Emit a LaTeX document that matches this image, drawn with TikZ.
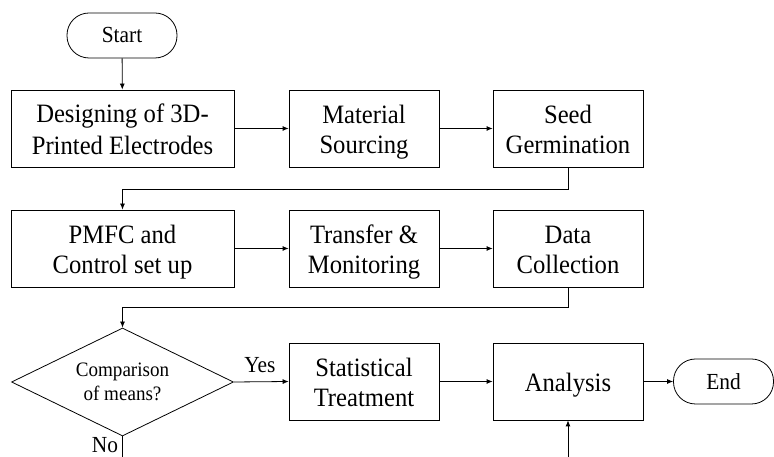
\documentclass[tikz,border=0pt]{standalone}
\usepackage{fontspec}
\setmainfont[FakeStretch=0.93]{Liberation Serif}
\usetikzlibrary{arrows.meta,shapes.geometric,positioning}
\newcommand\ls{\rule[-5pt]{0pt}{30pt}}
\newcommand\lsd{\rule[-5pt]{0pt}{24pt}}
\begin{document}
\begin{tikzpicture}[x=1pt,y=1pt,
  line width=0.8pt,
  box/.style={draw, rectangle, minimum height=77pt, inner sep=0pt, align=center,
    font=\fontsize{26.5}{30}\selectfont},
  term/.style={draw, rectangle, rounded corners=22pt, minimum width=110pt, minimum height=45pt,
    inner sep=0pt, font=\fontsize{23}{26}\selectfont},
  decision/.style={draw, diamond, aspect=2.05, minimum width=222pt, minimum height=108pt,
    inner sep=0pt, align=center, font=\fontsize{20.5}{24}\selectfont},
  lbl/.style={font=\fontsize{23}{26}\selectfont, inner sep=0pt},
  arr/.style={-{Latex[length=6pt,width=5pt]}}]
\useasboundingbox (0,0) rectangle (774,457);
% row 0
\node[term] (start) at (122,421.5) {Start};
% row 1
\node[box, minimum width=223pt] (b1) at (122.5,328.5) {\ls Designing of 3D-\\\ls Printed Electrodes};
\node[box, minimum width=150pt] (b2) at (364,328.5) {\ls Material\\\ls Sourcing};
\node[box, minimum width=150pt] (b3) at (568,328.5) {\ls Seed\\\ls Germination};
% row 2
\node[box, minimum width=223pt] (b4) at (122.5,208.5) {\ls PMFC and\\\ls Control set up};
\node[box, minimum width=150pt] (b5) at (364,208.5) {\ls Transfer \&\\\ls Monitoring};
\node[box, minimum width=150pt] (b6) at (568,208.5) {\ls Data\\\ls Collection};
% row 3
\node[decision] (dia) at (122.5,75) {\lsd Comparison\\\lsd of means?};
\node[box, minimum width=150pt] (b7) at (364,75.5) {\ls Statistical\\\ls Treatment};
\node[box, minimum width=150pt] (b8) at (568,75.5) {\ls Analysis};
\node[term, minimum width=100pt] (end) at (723.5,75.5) {End};
\coordinate (nobot) at (122.5,0);
\coordinate (anbot) at (568,0);
% connectors
\draw[arr] (start) -- (b1);
\draw[arr] (b1) -- (b2);
\draw[arr] (b2) -- (b3);
\draw[arr] (b3.south) -- ++(0,-22) -| (b4.north);
\draw[arr] (b4) -- (b5);
\draw[arr] (b5) -- (b6);
\draw[arr] (b6.south) -- ++(0,-20) -| (dia.north);
\draw[arr] (dia.east) -- (b7.west);
\node[lbl, anchor=base] (yes) at (260,84) {Yes};
\draw (dia.south) -- (nobot);
\node[lbl, anchor=base east] (no) at (118.5,4) {No};
\draw[arr] (b7) -- (b8);
\draw[arr] (b8) -- (end);
\draw[arr] (anbot) -- (b8.south);
\end{tikzpicture}
\end{document}
